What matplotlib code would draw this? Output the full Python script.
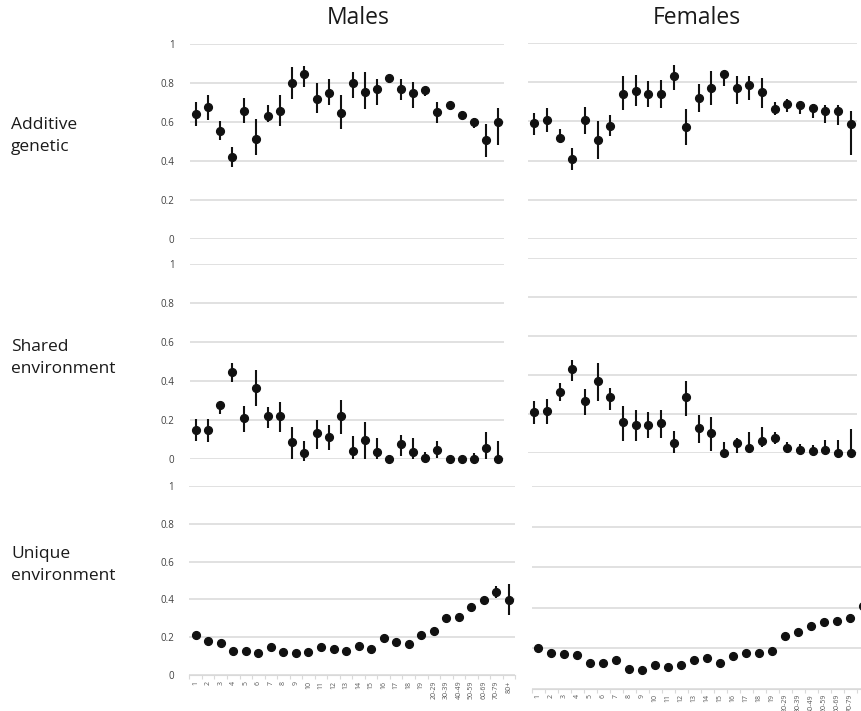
import matplotlib
matplotlib.use("Agg")
import matplotlib.pyplot as plt
import numpy as np

plt.rcParams["font.family"] = ["Open Sans", "DejaVu Sans"]

# Age categories (x axis)
ages = [str(i) for i in range(1, 20)] + ["20-29", "30-39", "40-49", "50-59",
                                         "60-69", "70-79", "80+"]

# Additive genetic variance: estimate, lower and upper limits
m_a = [0.639, 0.677, 0.552, 0.422, 0.656, 0.513, 0.632, 0.656, 0.798, 0.844,
       0.720, 0.750, 0.646, 0.800, 0.756, 0.769, 0.824, 0.771, 0.750, 0.762,
       0.653, 0.687, 0.638, 0.602, 0.508, 0.602]
m_a_lo = [0.581, 0.610, 0.508, 0.371, 0.593, 0.431, 0.602, 0.581, 0.716, 0.778,
          0.648, 0.687, 0.562, 0.723, 0.667, 0.685, 0.802, 0.711, 0.673, 0.733,
          0.597, 0.677, 0.619, 0.571, 0.419, 0.482]
m_a_hi = [0.704, 0.738, 0.605, 0.474, 0.725, 0.615, 0.687, 0.738, 0.884, 0.887,
          0.802, 0.819, 0.738, 0.856, 0.856, 0.822, 0.838, 0.819, 0.807, 0.773,
          0.704, 0.696, 0.653, 0.619, 0.588, 0.670]

f_a = [0.590, 0.609, 0.515, 0.409, 0.609, 0.503, 0.578, 0.738, 0.756, 0.740,
       0.740, 0.832, 0.571, 0.720, 0.769, 0.844, 0.769, 0.788, 0.752, 0.663,
       0.689, 0.682, 0.670, 0.653, 0.651, 0.588]
f_a_lo = [0.532, 0.545, 0.494, 0.354, 0.538, 0.409, 0.525, 0.656, 0.680, 0.674,
          0.667, 0.761, 0.482, 0.650, 0.682, 0.781, 0.687, 0.708, 0.670, 0.631,
          0.650, 0.639, 0.619, 0.590, 0.581, 0.431]
f_a_hi = [0.644, 0.670, 0.559, 0.465, 0.675, 0.602, 0.632, 0.832, 0.836, 0.807,
          0.812, 0.887, 0.665, 0.793, 0.855, 0.858, 0.832, 0.832, 0.819, 0.699,
          0.716, 0.699, 0.687, 0.682, 0.682, 0.653]

# Shared environment variance
m_c = [0.149, 0.149, 0.279, 0.446, 0.210, 0.364, 0.219, 0.219, 0.085, 0.031,
       0.132, 0.111, 0.219, 0.043, 0.099, 0.036, 0.000, 0.075, 0.036, 0.007,
       0.048, 0.000, 0.000, 0.000, 0.056, 0.000]
m_c_lo = [0.091, 0.085, 0.231, 0.393, 0.140, 0.270, 0.159, 0.140, 0.000, -0.008,
          0.053, 0.048, 0.128, 0.000, 0.000, 0.000, 0.000, 0.014, 0.000, 0.000,
          0.005, 0.000, 0.000, 0.000, 0.000, 0.000]
m_c_hi = [0.205, 0.205, 0.292, 0.492, 0.274, 0.455, 0.267, 0.291, 0.162, 0.091,
          0.202, 0.173, 0.304, 0.120, 0.190, 0.108, 0.022, 0.125, 0.108, 0.034,
          0.091, 0.000, 0.000, 0.030, 0.137, 0.091]

f_c = [0.209, 0.214, 0.314, 0.429, 0.266, 0.370, 0.285, 0.160, 0.146, 0.146,
       0.154, 0.053, 0.285, 0.129, 0.103, 0.000, 0.053, 0.027, 0.060, 0.079,
       0.027, 0.017, 0.009, 0.017, 0.000, 0.000]
f_c_lo = [0.149, 0.149, 0.269, 0.369, 0.194, 0.268, 0.223, 0.062, 0.062, 0.077,
          0.077, 0.000, 0.189, 0.051, 0.009, 0.000, 0.000, 0.000, 0.031, 0.045,
          0.000, 0.000, 0.000, 0.000, 0.000, 0.000]
f_c_hi = [0.266, 0.276, 0.357, 0.477, 0.326, 0.460, 0.334, 0.240, 0.220, 0.208,
          0.220, 0.113, 0.370, 0.197, 0.185, 0.057, 0.079, 0.108, 0.134, 0.108,
          0.057, 0.048, 0.039, 0.065, 0.065, 0.125]

# Unique environment variance
m_e = [0.212, 0.180, 0.168, 0.127, 0.127, 0.115, 0.150, 0.122, 0.115, 0.122,
       0.150, 0.136, 0.127, 0.155, 0.136, 0.194, 0.176, 0.162, 0.212, 0.233,
       0.300, 0.309, 0.358, 0.397, 0.441, 0.397]
m_e_lo = [0.212, 0.180, 0.168, 0.127, 0.127, 0.115, 0.150, 0.122, 0.115, 0.122,
          0.150, 0.136, 0.127, 0.155, 0.136, 0.194, 0.176, 0.162, 0.212, 0.233,
          0.300, 0.309, 0.358, 0.397, 0.410, 0.320]
m_e_hi = [0.212, 0.180, 0.168, 0.127, 0.127, 0.115, 0.150, 0.122, 0.115, 0.122,
          0.150, 0.136, 0.127, 0.155, 0.136, 0.194, 0.176, 0.162, 0.212, 0.233,
          0.300, 0.309, 0.358, 0.397, 0.470, 0.480]

f_e = [0.198, 0.174, 0.169, 0.164, 0.128, 0.128, 0.139, 0.096, 0.091, 0.116,
       0.105, 0.116, 0.139, 0.152, 0.128, 0.160, 0.177, 0.177, 0.187, 0.259,
       0.277, 0.309, 0.327, 0.335, 0.350, 0.409]
f_e_lo = [0.198, 0.174, 0.169, 0.164, 0.128, 0.128, 0.139, 0.096, 0.091, 0.116,
          0.105, 0.116, 0.139, 0.152, 0.128, 0.160, 0.177, 0.177, 0.187, 0.259,
          0.277, 0.309, 0.327, 0.335, 0.330, 0.400]
f_e_hi = [0.198, 0.174, 0.169, 0.164, 0.128, 0.128, 0.139, 0.096, 0.091, 0.116,
          0.105, 0.116, 0.139, 0.152, 0.128, 0.160, 0.177, 0.177, 0.187, 0.259,
          0.277, 0.309, 0.327, 0.335, 0.360, 0.420]

yticks = [0, 0.2, 0.4, 0.6, 0.8, 1.0]
ytick_labels = ["0", "0.2", "0.4", "0.6", "0.8", "1"]

W, H = 862, 711
fig = plt.figure(figsize=(W / 100, H / 100), dpi=100)


def panel(left, top, right, bottom):
    return fig.add_axes([left / W, 1 - bottom / H, (right - left) / W,
                         (bottom - top) / H])


GRID = "#d9d9d9"
TXT = "#404040"


def draw(ax, est, lo, hi, show_y, xlabels=None):
    x = np.arange(1, len(est) + 1)
    est = np.asarray(est)
    err = np.vstack([est - np.asarray(lo), np.asarray(hi) - est])
    ax.set_xlim(0.5, len(ages) + 0.5)
    ax.set_ylim(0, 1)
    ax.set_yticks(yticks)
    ax.yaxis.grid(True, color=GRID, linewidth=1.1)
    ax.set_axisbelow(True)
    for s in ax.spines.values():
        s.set_visible(False)
    if show_y:
        ax.set_yticklabels(ytick_labels, fontsize=7, color=TXT)
        ax.tick_params(axis="y", length=0, pad=11)
    else:
        ax.tick_params(axis="y", length=0, labelleft=False)
    if xlabels is not None:
        ax.spines["bottom"].set_visible(True)
        ax.spines["bottom"].set_color(GRID)
        ax.set_xticks(x)
        ax.set_xticklabels(xlabels, rotation=90, fontsize=5, color="#595959")
        ax.set_xticks(np.arange(0.5, len(ages) + 1, 1.0), minor=True)
        ax.tick_params(axis="x", which="major", length=0, pad=4)
        ax.tick_params(axis="x", which="minor", length=3, color=GRID,
                       width=0.8)
    else:
        ax.tick_params(axis="x", length=0, labelbottom=False)
    eb = ax.errorbar(x, est, yerr=err, fmt="o", color="#111111",
                     markersize=5.6, elinewidth=1.5, capsize=0, zorder=3)
    for artist in eb.get_children():
        artist.set_clip_on(False)
    eb.lines[0].set_clip_on(False)


# Males
draw(panel(189.6, 44, 504, 239), m_a, m_a_lo, m_a_hi, True)
draw(panel(189.6, 264, 504, 459), m_c, m_c_lo, m_c_hi, True)
draw(panel(189.4, 486, 515.3, 675), m_e, m_e_lo, m_e_hi, True, ages)

# Females (the last category runs off the right edge of the figure)
draw(panel(528, 43, 857, 239), f_a, f_a_lo, f_a_hi, False)
draw(panel(528, 258, 857, 453), f_c, f_c_lo, f_c_hi, False)
draw(panel(531.8, 486, 869.8, 688.5), f_e, f_e_lo, f_e_hi, False,
     ages[:-1] + [""])

# Column titles
fig.text(358 / W, 1 - 18 / H, "Males", fontsize=16.5, color="#1a1a1a",
         ha="center", va="center")
fig.text(697 / W, 1 - 18 / H, "Females", fontsize=16.5, color="#1a1a1a",
         ha="center", va="center")

# Row labels
row_labels = [("Additive\ngenetic", 136), ("Shared\nenvironment", 358),
              ("Unique\nenvironment", 565)]
for label, yc in row_labels:
    fig.text(11 / W, 1 - yc / H, label, fontsize=12.5, color="#1a1a1a",
             ha="left", va="center", linespacing=1.45)

fig.savefig("out.png", dpi=100, facecolor="white")
